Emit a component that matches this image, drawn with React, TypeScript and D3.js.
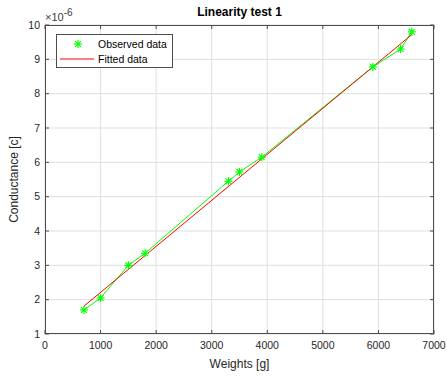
import * as d3 from 'd3'

const weights = [700, 1000, 1500, 1800, 3300, 3500, 3900, 5900, 6400, 6600]
const conductance = [1.7, 2.05, 3.0, 3.35, 5.45, 5.72, 6.15, 8.78, 9.3, 9.8]
const fitX = [700, 6600]
const fitY = [1.81, 9.72]
const xTicks = [0, 1000, 2000, 3000, 4000, 5000, 6000, 7000]
const yTicks = [1, 2, 3, 4, 5, 6, 7, 8, 9, 10]
const legendLabels = ['Observed data', 'Fitted data']

const W = 447
const H = 376
const pad = { l: 45, r: 13, t: 25, b: 42 }
const FONT = '"Liberation Sans", Arial, Helvetica, sans-serif'
const AX = '#4d4d4d'

function Star({ cx, cy, r }: { cx: number; cy: number; r: number }) {
  const d = r * 0.72
  return (
    <g stroke="#00ff00" strokeWidth={1.2}>
      <line x1={cx - r} y1={cy} x2={cx + r} y2={cy} />
      <line x1={cx} y1={cy - r} x2={cx} y2={cy + r} />
      <line x1={cx - d} y1={cy - d} x2={cx + d} y2={cy + d} />
      <line x1={cx - d} y1={cy + d} x2={cx + d} y2={cy - d} />
    </g>
  )
}

export default function App() {
  const x = d3.scaleLinear().domain([0, 7000]).range([pad.l, W - pad.r])
  const y = d3.scaleLinear().domain([1, 10]).range([H - pad.b, pad.t])
  const pts = weights.map((w, i) => [w, conductance[i]] as [number, number])
  const line = d3.line<[number, number]>().x(d => x(d[0])).y(d => y(d[1]))
  const fit = fitX.map((w, i) => [w, fitY[i]] as [number, number])
  const x0 = pad.l, x1 = W - pad.r, y0 = H - pad.b, y1 = pad.t

  return (
    <svg width={W} height={H} style={{ position: 'absolute', left: 0, top: 0, background: '#fff' }} fontFamily={FONT}>
      <rect x={x0} y={y1} width={x1 - x0} height={y0 - y1} fill="#fff" />
      {xTicks.map(t => (
        <line key={'gx' + t} x1={x(t)} x2={x(t)} y1={y1} y2={y0} stroke="#dfdfdf" strokeWidth={1} />
      ))}
      {yTicks.map(t => (
        <line key={'gy' + t} x1={x0} x2={x1} y1={y(t)} y2={y(t)} stroke="#dfdfdf" strokeWidth={1} />
      ))}
      <path d={line(pts) || ''} fill="none" stroke="#00ff00" strokeWidth={1} />
      <path d={line(fit) || ''} fill="none" stroke="#ff0000" strokeWidth={1} />
      {pts.map((p, i) => (
        <Star key={i} cx={x(p[0])} cy={y(p[1])} r={4} />
      ))}
      <rect x={x0 + 0.5} y={y1 + 0.5} width={x1 - x0 - 1} height={y0 - y1 - 1} fill="none" stroke={AX} strokeWidth={1} />
      {xTicks.map(t => (
        <g key={'tx' + t}>
          <line x1={x(t)} x2={x(t)} y1={y0} y2={y0 - 4} stroke={AX} />
          <line x1={x(t)} x2={x(t)} y1={y1} y2={y1 + 4} stroke={AX} />
          <text x={x(t)} y={y0 + 15} textAnchor="middle" fontSize={10.5} fill="#262626">{t}</text>
        </g>
      ))}
      {yTicks.map(t => (
        <g key={'ty' + t}>
          <line x1={x0} x2={x0 + 4} y1={y(t)} y2={y(t)} stroke={AX} />
          <line x1={x1} x2={x1 - 4} y1={y(t)} y2={y(t)} stroke={AX} />
          <text x={x0 - 5} y={y(t) + 3.5} textAnchor="end" fontSize={10.5} fill="#262626">{t}</text>
        </g>
      ))}
      <text x={x0} y={y1 - 4} fontSize={11} fill="#404040">
        ×10<tspan dy={-5} fontSize={10}>-6</tspan>
      </text>
      <text x={(x0 + x1) / 2} y={16} textAnchor="middle" fontSize={12} fontWeight="bold" fill="#000">Linearity test 1</text>
      <text x={(x0 + x1) / 2} y={368} textAnchor="middle" fontSize={12} fill="#262626">Weights [g]</text>
      <text transform={`translate(18,${(y0 + y1) / 2}) rotate(-90)`} textAnchor="middle" fontSize={12} fill="#262626">Conductance [c]</text>
      <g>
        <rect x={56.5} y={34.5} width={116} height={33} fill="#fff" stroke={AX} strokeWidth={1} />
        <Star cx={78} cy={44} r={4} />
        <line x1={60} x2={94} y1={59} y2={59} stroke="#ff0000" strokeWidth={1} />
        <text x={98} y={48} fontSize={10.5} fill="#000">{legendLabels[0]}</text>
        <text x={98} y={63} fontSize={10.5} fill="#000">{legendLabels[1]}</text>
      </g>
    </svg>
  )
}
